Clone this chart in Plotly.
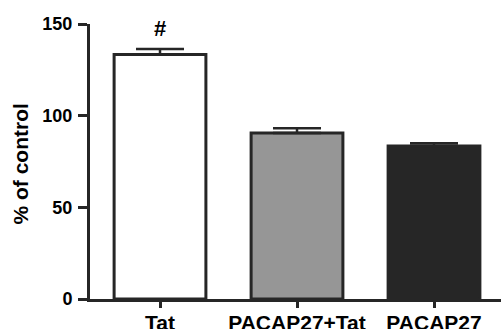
import plotly.graph_objects as go

categories = ["Tat", "PACAP27+Tat", "PACAP27"]
means = [133.3, 90.6, 83.5]
sems = [3.0, 2.5, 1.5]
fill_colors = ["#ffffff", "#969696", "#262626"]
y_ticks = [0, 50, 100, 150]
marker_text = "#"

dark = "#262626"
font_fam = "Liberation Sans, Arial, sans-serif"

fig = go.Figure()
fig.add_trace(go.Bar(
    x=list(range(len(categories))),
    y=means,
    width=0.67,
    marker=dict(color=fill_colors, line=dict(color=dark, width=3)),
    error_y=dict(type="data", symmetric=False, array=sems, arrayminus=[0] * len(sems),
                 color=dark, thickness=2.5, width=24),
    showlegend=False,
))

fig.add_annotation(x=0, y=147.8, xref="x", yref="y", text="<b>" + marker_text + "</b>", showarrow=False,
                   font=dict(family=font_fam, size=22, color="#000"),
                   xanchor="center", yanchor="middle")

fig.add_annotation(x=0, y=0.5, xref="paper", yref="paper", xshift=-70, yshift=-3,
                   text="<b>% of control</b>", textangle=-90, showarrow=False,
                   xanchor="center", yanchor="middle",
                   font=dict(family=font_fam, size=21, color="#000"))

fig.update_layout(
    width=501, height=329,
    margin=dict(l=90, r=0, t=24, b=30, pad=0),
    plot_bgcolor="white", paper_bgcolor="white",
    xaxis=dict(
        range=[-0.511, 2.489], automargin=False,
        tickmode="array", tickvals=list(range(len(categories))),
        ticktext=["<b>" + c + "</b>" for c in categories],
        showline=True, linecolor=dark, linewidth=3,
        ticks="outside", ticklen=6, tickwidth=3, tickcolor=dark,
        tickfont=dict(family=font_fam, size=21, color="#000"),
        ticklabelstandoff=-3,
        showgrid=False, zeroline=False, fixedrange=True,
    ),
    yaxis=dict(
        range=[0, 150], automargin=False,
        tickmode="array", tickvals=y_ticks, ticktext=["<b>" + str(v) + "</b>" for v in y_ticks],
        showline=True, linecolor=dark, linewidth=3,
        ticks="outside", ticklen=9, tickwidth=3, tickcolor=dark,
        tickfont=dict(family=font_fam, size=18, color="#000"),
        ticklabelstandoff=2,
        showgrid=False, zeroline=False, fixedrange=True,
    ),
)

fig.write_html("out.html", post_script="document.body.style.margin='0px';",
               config={"displayModeBar": False})
